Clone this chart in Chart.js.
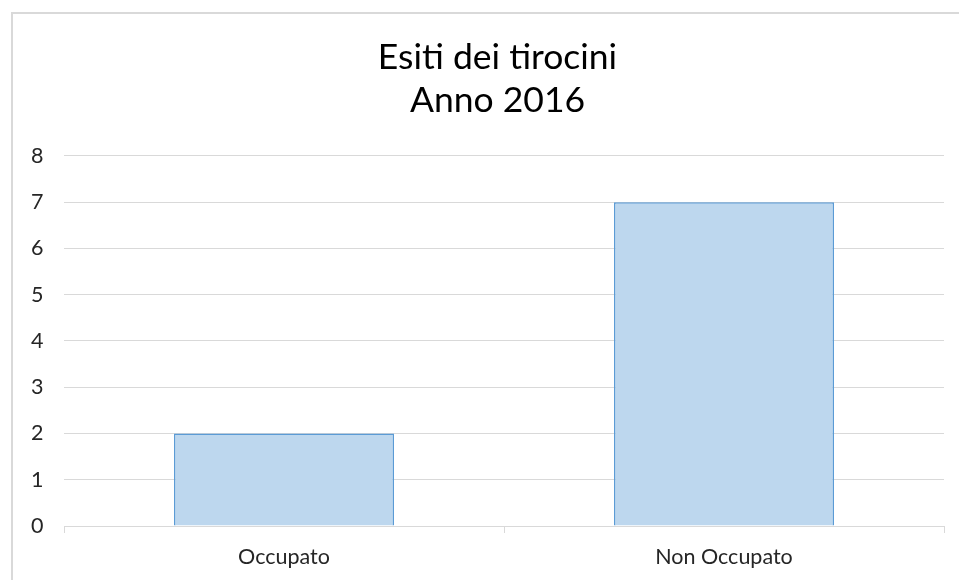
<!DOCTYPE html>
<html><head><meta charset="utf-8">
<script src="https://cdn.jsdelivr.net/npm/chart.js@4.4.1/dist/chart.umd.min.js"></script>
<style>html,body{margin:0;padding:0;background:#fff;}#wrap{width:959px;height:580px;position:relative;}</style>
</head><body><div id="wrap"><canvas id="c" width="959" height="580"></canvas></div>
<script>
const categories = ["Occupato", "Non Occupato"];
const values = [2, 7];
const titleLines = ["Esiti dei tirocini", "Anno 2016"];
const yMin = 0, yMax = 8, yStep = 1;

const frame = {
  id: 'frame',
  beforeDraw(chart) {
    const ctx = chart.ctx;
    ctx.save();
    ctx.fillStyle = '#fff';
    ctx.fillRect(0, 0, chart.width, chart.height);
    ctx.strokeStyle = '#d9d9d9';
    ctx.lineWidth = 2;
    ctx.strokeRect(12, 13, 2000, 2000);
    ctx.restore();
  }
};

new Chart(document.getElementById('c'), {
  type: 'bar',
  data: {
    labels: categories,
    datasets: [{
      data: values,
      backgroundColor: '#bdd7ee',
      borderColor: '#5b9bd5',
      borderWidth: 1.5,
      categoryPercentage: 1,
      barPercentage: 0.5
    }]
  },
  options: {
    responsive: false,
    animation: false,
    layout: { padding: { left: 51, right: 15, top: 0, bottom: 0 } },
    plugins: {
      legend: { display: false },
      tooltip: { enabled: false },
      title: {
        display: true,
        text: titleLines,
        color: '#000',
        font: { family: 'Lato', size: 35.5, weight: 'normal', lineHeight: 1.21 },
        padding: { top: 36, bottom: 34 }
      }
    },
    scales: {
      x: {
        grid: { display: true, offset: true, drawOnChartArea: false, color: '#d9d9d9', tickLength: 7 },
        border: { color: '#d9d9d9' },
        ticks: { color: '#262626', font: { family: 'Lato', size: 21.5 }, padding: 11 },
        afterFit(s) { s.height = 54; }
      },
      y: {
        min: yMin, max: yMax,
        ticks: { stepSize: yStep, color: '#262626', font: { family: 'Lato', size: 21.5 }, mirror: true, padding: -33 },
        grid: { color: '#d9d9d9', drawTicks: false },
        border: { display: false },
        afterFit(s) { s.width = 13; }
      }
    }
  },
  plugins: [frame]
});
</script></body></html>
